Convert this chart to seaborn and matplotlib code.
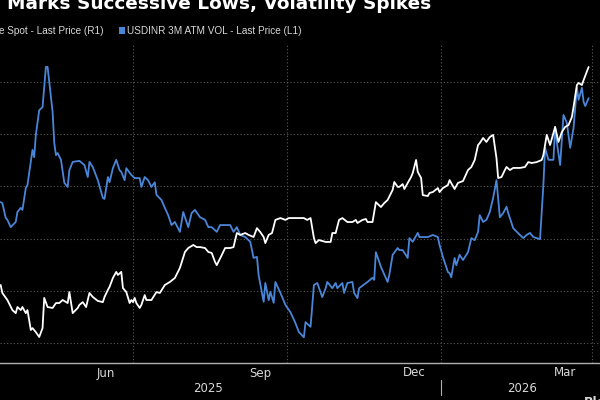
import matplotlib
matplotlib.use("Agg")
import matplotlib.pyplot as plt
import matplotlib.dates as mdates
from matplotlib.lines import Line2D
from matplotlib.patches import Rectangle
import matplotlib.transforms as mtransforms
import pandas as pd
import seaborn as sns

# ---------------- data ----------------
vol_dates = [
    "2025-04-13", "2025-04-14", "2025-04-16", "2025-04-17", "2025-04-19", "2025-04-22", "2025-04-23", "2025-04-25", "2025-04-26", "2025-04-28", "2025-04-29",
    "2025-05-02", "2025-05-03", "2025-05-04", "2025-05-06", "2025-05-08", "2025-05-10", "2025-05-11", "2025-05-14", "2025-05-15", "2025-05-16", "2025-05-17", "2025-05-19", "2025-05-21", "2025-05-23", "2025-05-24", "2025-05-26", "2025-05-30",
    "2025-06-02", "2025-06-04", "2025-06-05", "2025-06-07", "2025-06-10", "2025-06-13", "2025-06-14", "2025-06-16", "2025-06-17", "2025-06-19", "2025-06-21", "2025-06-23", "2025-06-24", "2025-06-26", "2025-06-27", "2025-06-30",
    "2025-07-02", "2025-07-05", "2025-07-06", "2025-07-08", "2025-07-10", "2025-07-12", "2025-07-14", "2025-07-15", "2025-07-18", "2025-07-20", "2025-07-22", "2025-07-24", "2025-07-26", "2025-07-29", "2025-07-31",
    "2025-08-03", "2025-08-05", "2025-08-07", "2025-08-10", "2025-08-13", "2025-08-15", "2025-08-17", "2025-08-20", "2025-08-22", "2025-08-28", "2025-08-30",
    "2025-09-01", "2025-09-03", "2025-09-06", "2025-09-09", "2025-09-11", "2025-09-13", "2025-09-14", "2025-09-17", "2025-09-18", "2025-09-20", "2025-09-21", "2025-09-23", "2025-09-24", "2025-09-27", "2025-09-30",
    "2025-10-03", "2025-10-06", "2025-10-08", "2025-10-11", "2025-10-12", "2025-10-14", "2025-10-15", "2025-10-17", "2025-10-19", "2025-10-22", "2025-10-24", "2025-10-25", "2025-10-28", "2025-10-30", "2025-10-31",
    "2025-11-03", "2025-11-04", "2025-11-06", "2025-11-09", "2025-11-10", "2025-11-12", "2025-11-13", "2025-11-18", "2025-11-21", "2025-11-22", "2025-11-23", "2025-11-26", "2025-11-30",
    "2025-12-01", "2025-12-03", "2025-12-06", "2025-12-07", "2025-12-09", "2025-12-12", "2025-12-13", "2025-12-15", "2025-12-18", "2025-12-19", "2025-12-24", "2025-12-27", "2025-12-30", "2025-12-31",
    "2026-01-02", "2026-01-05", "2026-01-06", "2026-01-07", "2026-01-09", "2026-01-10", "2026-01-12", "2026-01-14", "2026-01-17", "2026-01-19", "2026-01-21", "2026-01-23", "2026-01-24", "2026-01-26", "2026-01-28", "2026-01-30",
    "2026-02-01", "2026-02-03", "2026-02-05", "2026-02-07", "2026-02-09", "2026-02-10", "2026-02-13", "2026-02-17", "2026-02-19", "2026-02-21", "2026-02-23", "2026-02-25",
    "2026-03-01", "2026-03-03", "2026-03-04", "2026-03-06", "2026-03-09", "2026-03-10", "2026-03-11", "2026-03-13", "2026-03-15", "2026-03-17", "2026-03-19", "2026-03-21", "2026-03-23", "2026-03-24", "2026-03-26", "2026-03-27", "2026-03-28", "2026-03-30",
]
vol_values = [
    5.70, 5.68, 5.40, 5.36, 5.22, 5.32, 5.51, 5.59, 5.55, 5.97, 6.03,
    6.70, 6.56, 6.99, 7.46, 7.52, 8.29, 8.29, 7.43, 6.83, 6.60, 6.64, 6.51, 6.07, 5.99, 6.31, 6.47, 6.49,
    6.41, 6.18, 6.47, 6.37, 6.12, 5.78, 5.76, 6.18, 6.08, 6.35, 6.51, 6.31, 6.28, 6.12, 6.35, 6.22,
    6.16, 6.16, 5.99, 6.18, 6.12, 5.99, 6.08, 5.84, 5.74, 5.59, 5.45, 5.26, 5.32, 5.13, 5.51,
    5.22, 5.49, 5.55, 5.41, 5.36, 5.22, 5.22, 5.13, 5.26, 5.26, 5.13,
    5.22, 5.07, 5.03, 4.94, 4.63, 4.65, 4.30, 3.79, 4.15, 3.82, 3.98, 3.77, 4.17, 3.96, 3.73,
    3.59, 3.38, 3.21, 3.11, 3.40, 3.34, 3.31, 4.11, 4.15, 3.88, 4.05, 4.17, 4.05, 4.15, 4.05,
    4.15, 3.96, 4.15, 4.17, 3.96, 3.86, 4.05, 4.17, 4.25, 4.21, 4.74, 4.46, 4.17,
    4.30, 4.69, 4.82, 4.78, 4.78, 4.63, 5.01, 4.94, 5.11, 5.03, 5.03, 5.07, 5.03, 4.88,
    4.65, 4.36, 4.34, 4.26, 4.63, 4.49, 4.69, 4.59, 4.74, 5.01, 4.97, 5.13, 5.45, 5.32, 5.36, 5.51,
    5.78, 6.12, 5.41, 5.49, 5.61, 5.49, 5.20, 5.07, 5.01, 5.07, 5.11, 5.03,
    4.99, 6.03, 6.74, 6.51, 6.51, 7.14, 6.85, 6.41, 7.37, 7.22, 6.74, 7.12, 7.89, 7.66, 7.89, 7.62, 7.54, 7.69,
]

spot_dates = [
    "2025-04-13", "2025-04-14", "2025-04-17", "2025-04-20", "2025-04-22", "2025-04-23", "2025-04-25", "2025-04-26", "2025-04-28", "2025-04-29",
    "2025-05-01", "2025-05-02", "2025-05-04", "2025-05-06", "2025-05-08", "2025-05-09", "2025-05-11", "2025-05-14", "2025-05-16", "2025-05-18", "2025-05-20", "2025-05-23", "2025-05-24", "2025-05-26", "2025-05-29", "2025-05-30",
    "2025-06-01", "2025-06-03", "2025-06-05", "2025-06-07", "2025-06-10", "2025-06-13", "2025-06-14", "2025-06-16", "2025-06-17", "2025-06-19", "2025-06-21", "2025-06-22", "2025-06-24", "2025-06-25", "2025-06-27", "2025-06-29", "2025-06-30",
    "2025-07-01", "2025-07-02", "2025-07-03", "2025-07-05", "2025-07-06", "2025-07-08", "2025-07-09", "2025-07-12", "2025-07-15", "2025-07-17", "2025-07-20", "2025-07-23", "2025-07-26", "2025-07-29",
    "2025-08-01", "2025-08-03", "2025-08-06", "2025-08-08", "2025-08-10", "2025-08-13", "2025-08-15", "2025-08-17", "2025-08-19", "2025-08-20", "2025-08-23", "2025-08-25", "2025-08-28", "2025-08-30",
    "2025-09-01", "2025-09-03", "2025-09-06", "2025-09-08", "2025-09-11", "2025-09-13", "2025-09-15", "2025-09-17", "2025-09-18", "2025-09-20", "2025-09-22", "2025-09-24", "2025-09-27", "2025-09-30",
    "2025-10-02", "2025-10-06", "2025-10-11", "2025-10-13", "2025-10-15", "2025-10-17", "2025-10-18", "2025-10-20", "2025-10-24", "2025-10-27", "2025-10-28", "2025-10-30",
    "2025-11-01", "2025-11-03", "2025-11-06", "2025-11-09", "2025-11-11", "2025-11-12", "2025-11-15", "2025-11-17", "2025-11-18", "2025-11-21", "2025-11-23", "2025-11-26", "2025-11-28", "2025-11-30",
    "2025-12-03", "2025-12-04", "2025-12-06", "2025-12-07", "2025-12-09", "2025-12-10", "2025-12-12", "2025-12-14", "2025-12-15", "2025-12-17", "2025-12-18", "2025-12-20", "2025-12-21", "2025-12-24", "2025-12-25", "2025-12-27", "2025-12-30", "2025-12-31",
    "2026-01-02", "2026-01-05", "2026-01-06", "2026-01-09", "2026-01-11", "2026-01-14", "2026-01-17", "2026-01-19", "2026-01-21", "2026-01-23", "2026-01-24", "2026-01-26", "2026-01-28", "2026-01-30",
    "2026-02-01", "2026-02-03", "2026-02-04", "2026-02-06", "2026-02-08", "2026-02-09", "2026-02-11", "2026-02-13", "2026-02-17", "2026-02-20", "2026-02-22", "2026-02-24", "2026-02-27",
    "2026-03-02", "2026-03-03", "2026-03-05", "2026-03-07", "2026-03-09", "2026-03-10", "2026-03-12", "2026-03-14", "2026-03-16", "2026-03-18", "2026-03-20", "2026-03-21", "2026-03-23", "2026-03-24", "2026-03-26", "2026-03-27", "2026-03-30",
]
spot_values = [
    86.02, 85.68, 85.38, 84.95, 84.82, 85.08, 84.95, 85.08, 84.82, 84.95,
    84.10, 84.18, 84.01, 83.80, 84.18, 85.47, 85.08, 85.04, 85.25, 85.25, 85.38, 85.25, 85.72, 84.82, 85.04, 85.17,
    85.29, 85.08, 85.68, 85.51, 85.34, 85.29, 85.51, 85.81, 85.94, 86.32, 86.58, 86.45, 86.58, 85.89, 85.72, 85.25, 85.38,
    85.29, 85.47, 85.25, 85.04, 85.17, 85.59, 85.38, 85.38, 85.72, 85.68, 86.02, 86.15, 86.32, 86.75,
    87.43, 87.60, 87.73, 87.64, 87.64, 87.60, 87.43, 87.39, 87.00, 86.87, 87.30, 87.60, 87.60, 87.64,
    88.24, 88.16, 88.24, 88.16, 88.07, 88.45, 88.28, 88.07, 87.81, 88.16, 88.24, 88.80, 88.88, 88.80,
    88.88, 88.88, 88.88, 88.80, 88.88, 88.03, 87.81, 87.94, 87.86, 87.86, 88.24, 88.24,
    88.80, 88.88, 88.71, 88.71, 88.80, 88.67, 88.80, 88.84, 88.71, 88.71, 89.56, 89.35, 89.52, 89.65,
    90.08, 90.42, 90.21, 90.21, 90.33, 90.12, 90.38, 90.63, 90.80, 91.36, 90.85, 90.59, 89.86, 89.82, 89.95, 89.99, 90.16, 89.99,
    90.16, 90.29, 90.50, 90.12, 90.38, 90.46, 90.93, 91.06, 91.36, 92.00, 92.08, 92.30, 92.13, 92.34,
    92.43, 91.44, 90.59, 90.63, 90.93, 91.06, 90.93, 91.02, 91.02, 91.06, 91.27, 91.23, 91.27,
    91.36, 91.57, 92.43, 92.00, 92.51, 92.77, 92.13, 92.55, 92.77, 92.85, 93.19, 93.62, 94.56, 94.65, 94.56, 94.77, 95.33,
]

title_text = "Marks Successive Lows, Volatility Spikes"
legend_spot = "e Spot - Last Price (R1)"
legend_vol = "USDINR 3M ATM VOL - Last Price (L1)"
month_labels = ["Jun", "Sep", "Dec", "Mar"]
month_label_dates = ["2025-06-15", "2025-09-15", "2025-12-16", "2026-03-16"]
year_labels = ["2025", "2026"]
year_label_dates = ["2025-08-15", "2026-02-18"]
vol_grid_levels = [3, 4, 5, 6, 7, 8]

# ---------------- style ----------------
sns.set_theme(style="dark", rc={
    "figure.facecolor": "black",
    "axes.facecolor": "black",
    "savefig.facecolor": "black",
})
plt.rcParams["font.family"] = ["DejaVu Sans"]

BLUE = "#4a86d8"
GRID = "#5a5a5a"
AXC = "#b0b0b0"
TXT = "#d8d8d8"

W, H = 600, 400
fig = plt.figure(figsize=(6, 4), dpi=100)
top_px, bot_px = 45, 363
ax = fig.add_axes([0, 1 - bot_px / H, 1, (bot_px - top_px) / H])
ax2 = ax.twinx()

vol_df = pd.DataFrame({"date": pd.to_datetime(vol_dates), "vol": vol_values})
spot_df = pd.DataFrame({"date": pd.to_datetime(spot_dates), "spot": spot_values})

sns.lineplot(data=vol_df, x="date", y="vol", ax=ax, color=BLUE, linewidth=1.3,
             errorbar=None, legend=False)
sns.lineplot(data=spot_df, x="date", y="spot", ax=ax2, color="white", linewidth=1.3,
             errorbar=None, legend=False)

x0 = mdates.date2num(pd.Timestamp("2025-04-12")) + 0.6
x1 = mdates.date2num(pd.Timestamp("2026-04-05")) + 0.8
ax.set_xlim(x0, x1)
ax.set_ylim(2.617, 8.710)
ax2.set_ylim(82.69, 96.27)

for a in (ax, ax2):
    a.set_xlabel("")
    a.set_ylabel("")
    a.set_facecolor("none")
    for s in a.spines.values():
        s.set_visible(False)
    a.tick_params(axis="y", length=0, labelleft=False, labelright=False)
    a.grid(False)
ax.set_facecolor("black")
ax2.set_yticks([])

ax.spines["bottom"].set_visible(True)
ax.spines["bottom"].set_color(AXC)
ax.spines["bottom"].set_linewidth(1.0)

ax.set_yticks(vol_grid_levels)
ax.xaxis.set_major_locator(mdates.MonthLocator(bymonth=[1, 4, 7, 10]))
ax.xaxis.set_minor_locator(mdates.MonthLocator())
ax.tick_params(axis="x", which="both", direction="out", length=3, width=1,
               color=AXC, labelbottom=False)
ax.grid(True, which="major", axis="both", color=GRID, linestyle=(0, (1, 2)), linewidth=0.8)
ax.set_axisbelow(True)

# month and year labels
trans = mtransforms.blended_transform_factory(ax.transData, ax.transAxes)
hax = bot_px - top_px
for lab, d in zip(month_labels, month_label_dates):
    ax.text(mdates.date2num(pd.Timestamp(d)), -10 / hax, lab, transform=trans,
            ha="center", va="center", color=TXT, fontsize=8.5)
for lab, d in zip(year_labels, year_label_dates):
    ax.text(mdates.date2num(pd.Timestamp(d)), -25 / hax, lab, transform=trans,
            ha="center", va="center", color=TXT, fontsize=8.5)
jan1 = mdates.date2num(pd.Timestamp("2026-01-01"))
ax.add_line(Line2D([jan1, jan1], [-(380 - bot_px) / hax, -(395 - bot_px) / hax],
                   transform=trans, color=AXC, linewidth=0.8, clip_on=False))

# title (cropped at top) and legend row
fig.text(7 / W, 1 - 9 / H, title_text, color="white", fontsize=13.3, fontweight="bold",
         ha="left", va="baseline")
fig.text(-1 / W, 1 - 33.5 / H, legend_spot, color=TXT, fontsize=7.2, family="Liberation Sans",
         ha="left", va="baseline")
fig.patches.append(Rectangle((118.5 / W, 1 - 33.5 / H), 6 / W, 6 / H,
                             transform=fig.transFigure, facecolor=BLUE, edgecolor="none"))
fig.text(127 / W, 1 - 33.5 / H, legend_vol, color=TXT, fontsize=7.2, family="Liberation Sans",
         ha="left", va="baseline")
fig.text(584 / W, 1 - 396 / H, "Bloomberg", color=TXT, fontsize=9, fontweight="bold",
         ha="left", va="top")

fig.savefig("out.png", dpi=100, facecolor="black")
